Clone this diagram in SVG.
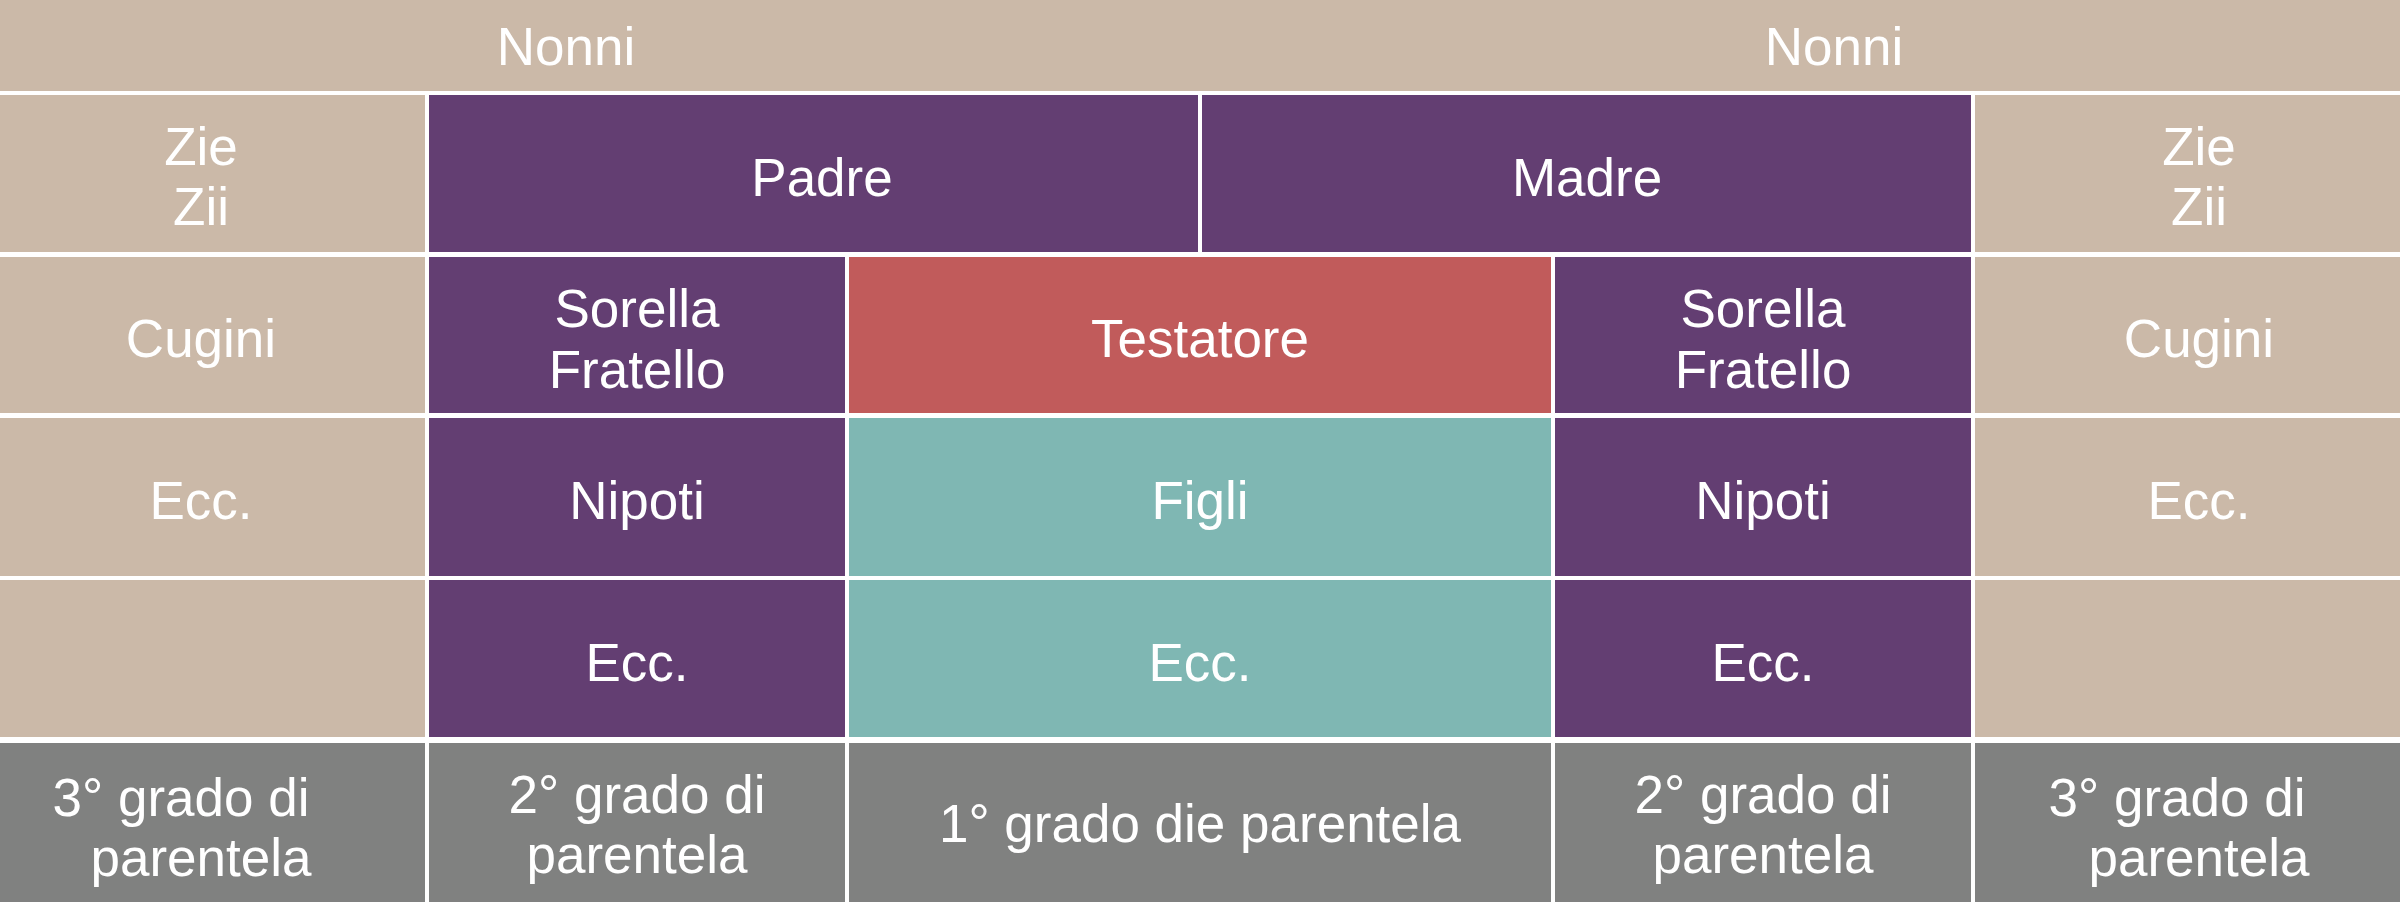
<svg xmlns="http://www.w3.org/2000/svg" width="2400" height="902" viewBox="0 0 2400 902">
<style>
.bg{fill:#ffffff}
.beige{fill:#CBB9A8}
.purple{fill:#633E72}
.red{fill:#C15B5B}
.teal{fill:#7FB7B3}
.gray{fill:#808180}
text{font-family:"Liberation Sans",Arial,sans-serif;font-size:53px;fill:#ffffff;text-anchor:middle}
</style>
<rect class="bg" x="0" y="0" width="2400" height="902"/>
<g id="nonni-left"><rect class="beige" x="0" y="0" width="1200" height="91"/><text x="566" y="65">Nonni</text></g>
<g id="nonni-right"><rect class="beige" x="1200" y="0" width="1200" height="91"/><text x="1834" y="65">Nonni</text></g>

<g id="zii-left"><rect class="beige" x="0" y="95" width="425" height="157"/><text><tspan x="201" y="165">Zie</tspan><tspan x="201" y="225">Zii</tspan></text></g>
<g id="padre"><rect class="purple" x="429" y="95" width="769" height="157"/><text x="822" y="196">Padre</text></g>
<g id="madre"><rect class="purple" x="1202" y="95" width="769" height="157"/><text x="1587" y="196">Madre</text></g>
<g id="zii-right"><rect class="beige" x="1975" y="95" width="425" height="157"/><text><tspan x="2199" y="165">Zie</tspan><tspan x="2199" y="225">Zii</tspan></text></g>

<g id="cugini-left"><rect class="beige" x="0" y="257" width="425" height="156"/><text x="201" y="357">Cugini</text></g>
<g id="fratelli-left"><rect class="purple" x="429" y="257" width="416" height="156"/><text><tspan x="637" y="327">Sorella</tspan><tspan x="637" y="388">Fratello</tspan></text></g>
<g id="testatore"><rect class="red" x="849" y="257" width="702" height="156"/><text x="1200" y="357">Testatore</text></g>
<g id="fratelli-right"><rect class="purple" x="1555" y="257" width="416" height="156"/><text><tspan x="1763" y="327">Sorella</tspan><tspan x="1763" y="388">Fratello</tspan></text></g>
<g id="cugini-right"><rect class="beige" x="1975" y="257" width="425" height="156"/><text x="2199" y="357">Cugini</text></g>

<g id="ecc-left-3"><rect class="beige" x="0" y="418" width="425" height="158"/><text x="201" y="519">Ecc.</text></g>
<g id="nipoti-left"><rect class="purple" x="429" y="418" width="416" height="158"/><text x="637" y="519">Nipoti</text></g>
<g id="figli"><rect class="teal" x="849" y="418" width="702" height="158"/><text x="1200" y="519">Figli</text></g>
<g id="nipoti-right"><rect class="purple" x="1555" y="418" width="416" height="158"/><text x="1763" y="519">Nipoti</text></g>
<g id="ecc-right-3"><rect class="beige" x="1975" y="418" width="425" height="158"/><text x="2199" y="519">Ecc.</text></g>

<g id="empty-left"><rect class="beige" x="0" y="580" width="425" height="157"/></g>
<g id="ecc-left-2"><rect class="purple" x="429" y="580" width="416" height="157"/><text x="637" y="681">Ecc.</text></g>
<g id="ecc-figli"><rect class="teal" x="849" y="580" width="702" height="157"/><text x="1200" y="681">Ecc.</text></g>
<g id="ecc-right-2"><rect class="purple" x="1555" y="580" width="416" height="157"/><text x="1763" y="681">Ecc.</text></g>
<g id="empty-right"><rect class="beige" x="1975" y="580" width="425" height="157"/></g>

<g id="grado3-left"><rect class="gray" x="0" y="743" width="425" height="159"/><text><tspan x="181" y="816">3° grado di</tspan><tspan x="201" y="876">parentela</tspan></text></g>
<g id="grado2-left"><rect class="gray" x="429" y="743" width="416" height="159"/><text><tspan x="637" y="813">2° grado di</tspan><tspan x="637" y="873">parentela</tspan></text></g>
<g id="grado1"><rect class="gray" x="849" y="743" width="702" height="159"/><text x="1200" y="842">1° grado die parentela</text></g>
<g id="grado2-right"><rect class="gray" x="1555" y="743" width="416" height="159"/><text><tspan x="1763" y="813">2° grado di</tspan><tspan x="1763" y="873">parentela</tspan></text></g>
<g id="grado3-right"><rect class="gray" x="1975" y="743" width="425" height="159"/><text><tspan x="2177" y="816">3° grado di</tspan><tspan x="2199" y="876">parentela</tspan></text></g>

<g id="connectors"></g>
</svg>
